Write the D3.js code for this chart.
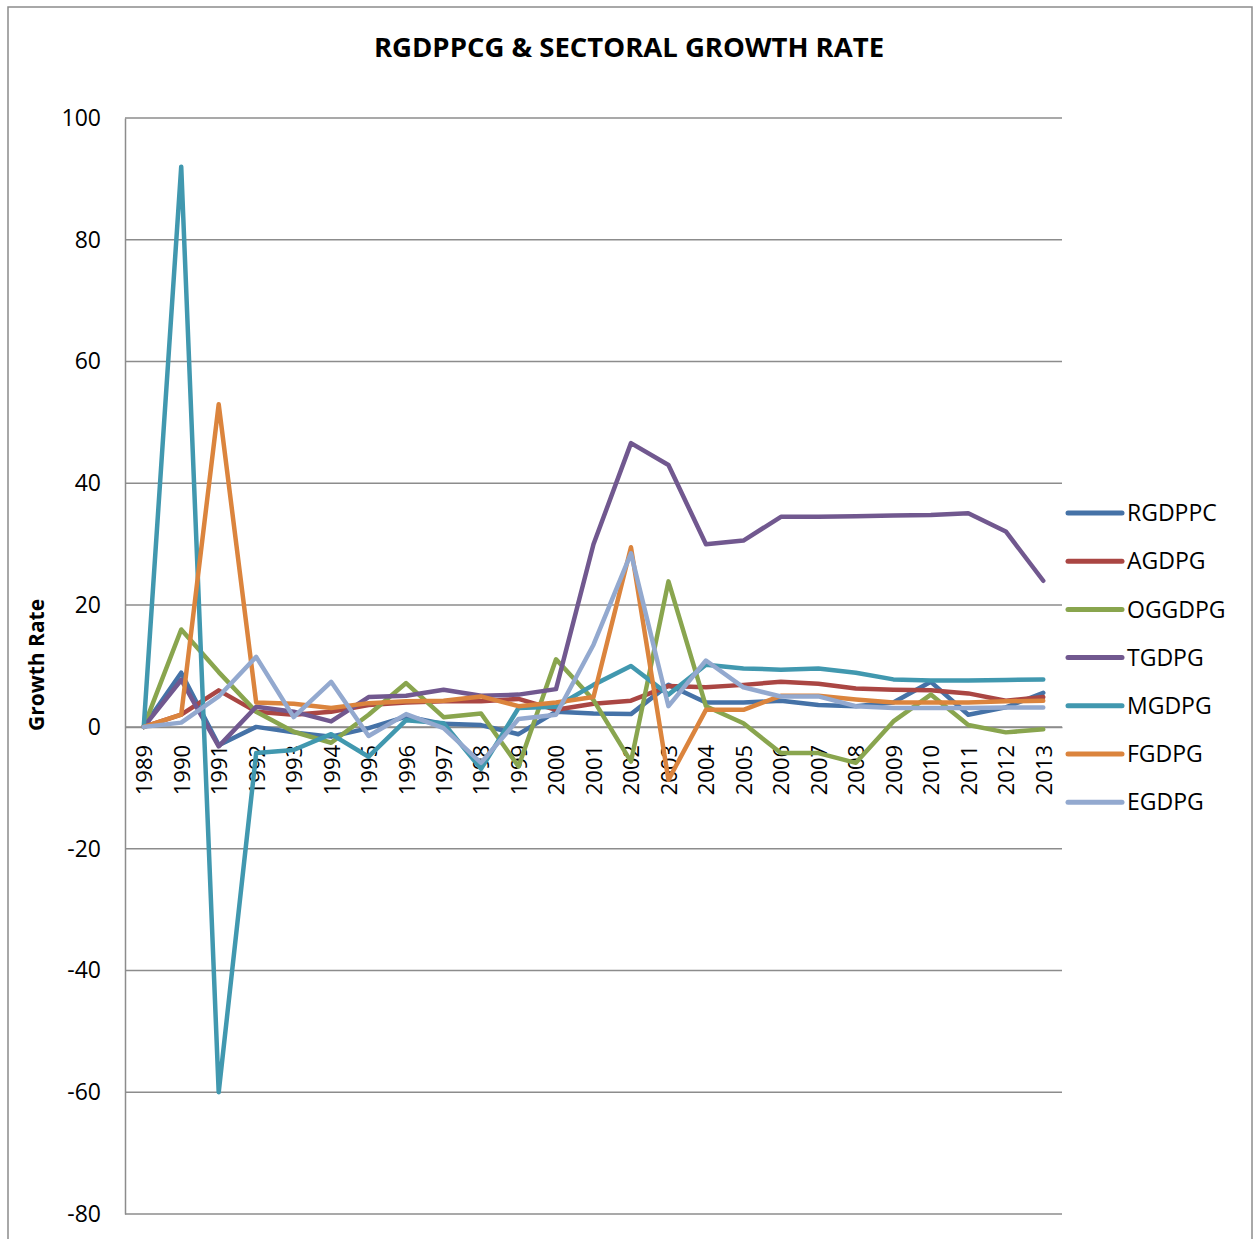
<!DOCTYPE html>
<html>
<head>
<meta charset="utf-8">
<script src="https://cdn.jsdelivr.net/npm/d3@7"></script>
<style>
  html, body { margin: 0; padding: 0; background: #fff; }
  svg { display: block; font-family: "Open Sans", "Noto Sans", sans-serif; }
</style>
</head>
<body>
<svg id="chart" width="1253" height="1239"></svg>
<script>
// Annual growth rates (%), 1989-2013
const years = ["1989","1990","1991","1992","1993","1994","1995","1996","1997","1998","1999","2000",
  "2001","2002","2003","2004","2005","2006","2007","2008","2009","2010","2011","2012","2013"];

const RGDPPC = [0, 8.9, -3.0, 0, -0.9, -1.6, -0.2, 1.7, 0.5, 0.3, -1.2, 2.5, 2.2, 2.1, 6.9, 4.0, 4.0, 4.3, 3.6, 3.4, 4.0, 7.4, 2.0, 3.2, 5.6];
const AGDPG  = [0, 2.0, 6.0, 2.5, 2.0, 2.5, 3.6, 4.0, 4.2, 4.2, 4.6, 2.8, 3.8, 4.3, 6.7, 6.5, 6.9, 7.4, 7.1, 6.3, 6.1, 6.0, 5.5, 4.3, 4.9];
const OGGDPG = [0, 16.0, 9.0, 2.5, -0.8, -2.6, 2.0, 7.2, 1.6, 2.2, -6.5, 11.1, 4.4, -5.7, 23.9, 3.4, 0.6, -4.3, -4.3, -5.9, 0.9, 5.3, 0.3, -0.9, -0.4];
const TGDPG  = [0, 7.7, -3.2, 3.3, 2.5, 0.9, 4.9, 5.1, 6.1, 5.1, 5.3, 6.2, 30.0, 46.6, 43.0, 30.0, 30.6, 34.5, 34.5, 34.6, 34.7, 34.8, 35.1, 32.1, 24.0];
const MGDPG  = [0, 92.0, -60.0, -4.3, -3.8, -1.2, -4.9, 1.1, 0.6, -6.9, 3.1, 3.3, 6.9, 10.0, 5.3, 10.2, 9.6, 9.4, 9.6, 8.9, 7.8, 7.6, 7.6, 7.7, 7.8];
const FGDPG  = [0, 2.0, 53.0, 4.0, 3.8, 3.1, 3.9, 4.2, 4.3, 5.0, 3.4, 4.0, 4.9, 29.5, -8.7, 2.8, 2.8, 5.1, 5.1, 4.5, 4.0, 4.0, 4.0, 4.2, 4.3];
const EGDPG  = [0, 0.7, 5.0, 11.5, 1.6, 7.4, -1.5, 2.1, -0.2, -5.9, 1.3, 2.0, 13.5, 28.5, 3.4, 10.9, 6.5, 5.0, 5.0, 3.4, 3.1, 3.1, 3.1, 3.2, 3.2];

const seriesNames = ["RGDPPC", "AGDPG", "OGGDPG", "TGDPG", "MGDPG", "FGDPG", "EGDPG"];
const seriesValues = [RGDPPC, AGDPG, OGGDPG, TGDPG, MGDPG, FGDPG, EGDPG];
const seriesColors = ["#4572A7", "#AA4643", "#89A54E", "#71588F", "#4198AF", "#DB843D", "#93A9CF"];

const yTicks = [-80, -60, -40, -20, 0, 20, 40, 60, 80, 100];

const titleText = "RGDPPCG & SECTORAL GROWTH RATE";
const yTitleText = "Growth Rate";

// Layout
const plot = { left: 125, right: 1062, top: 118, bottom: 1214 };
const gridColor = "#8c8c8c";

const svg = d3.select("#chart");

// outer chart frame
svg.append("rect")
  .attr("x", 8).attr("y", 7)
  .attr("width", 1244).attr("height", 1260)
  .attr("fill", "none")
  .attr("stroke", gridColor)
  .attr("stroke-width", 1.5);

const x = d3.scalePoint().domain(years).range([plot.left, plot.right]).padding(0.5);
const y = d3.scaleLinear().domain([-80, 100]).range([plot.bottom, plot.top]);

// horizontal gridlines
svg.append("g")
  .selectAll("line")
  .data(yTicks)
  .join("line")
  .attr("x1", plot.left).attr("x2", plot.right)
  .attr("y1", d => y(d)).attr("y2", d => y(d))
  .attr("stroke", gridColor)
  .attr("stroke-width", 1.5);

// vertical value axis (plain hyphen for negatives)
const yAxis = svg.append("g")
  .attr("transform", `translate(${plot.left},0)`)
  .call(d3.axisLeft(y).tickValues(yTicks).tickSize(0).tickPadding(24).tickFormat(d => String(d)));
yAxis.select(".domain").attr("stroke", gridColor).attr("stroke-width", 1.5);
yAxis.selectAll("text")
  .attr("font-size", 23)
  .attr("font-family", "'Open Sans', sans-serif")
  .attr("fill", "#000");

// category axis along the zero line
const xAxis = svg.append("g")
  .attr("transform", `translate(0,${y(0)})`)
  .call(d3.axisBottom(x).tickSize(0));
xAxis.select(".domain").attr("stroke", gridColor).attr("stroke-width", 1.5);
xAxis.selectAll("text")
  .attr("font-size", 22)
  .attr("font-family", "'Open Sans', sans-serif")
  .attr("fill", "#000")
  .attr("text-anchor", "end")
  .attr("transform", "rotate(-90)")
  .attr("x", -18)
  .attr("y", 0)
  .attr("dy", "0.36em");

// series lines
const line = d3.line()
  .x((d, i) => x(years[i]))
  .y(d => y(d));

svg.append("g")
  .selectAll("path")
  .data(seriesValues)
  .join("path")
  .attr("d", d => line(d))
  .attr("fill", "none")
  .attr("stroke", (d, i) => seriesColors[i])
  .attr("stroke-width", 4.5)
  .attr("stroke-linejoin", "round")
  .attr("stroke-linecap", "round");

// title
svg.append("text")
  .attr("x", 629)
  .attr("y", 57)
  .attr("text-anchor", "middle")
  .attr("font-weight", "bold")
  .attr("font-size", 27.5)
  .attr("fill", "#000")
  .text(titleText);

// value axis title
svg.append("text")
  .attr("transform", "translate(44,665) rotate(-90)")
  .attr("text-anchor", "middle")
  .attr("font-weight", "bold")
  .attr("font-size", 21)
  .attr("fill", "#000")
  .text(yTitleText);

// legend
const legend = svg.append("g").attr("transform", "translate(1068,513)");
const rows = legend.selectAll("g")
  .data(seriesNames)
  .join("g")
  .attr("transform", (d, i) => `translate(0,${i * 48.2})`);
rows.append("line")
  .attr("x1", 0).attr("x2", 54)
  .attr("stroke", (d, i) => seriesColors[i])
  .attr("stroke-width", 5)
  .attr("stroke-linecap", "round");
rows.append("text")
  .attr("x", 59)
  .attr("dy", "0.36em")
  .attr("font-size", 23)
  .attr("fill", "#000")
  .text(d => d);
</script>
</body>
</html>
